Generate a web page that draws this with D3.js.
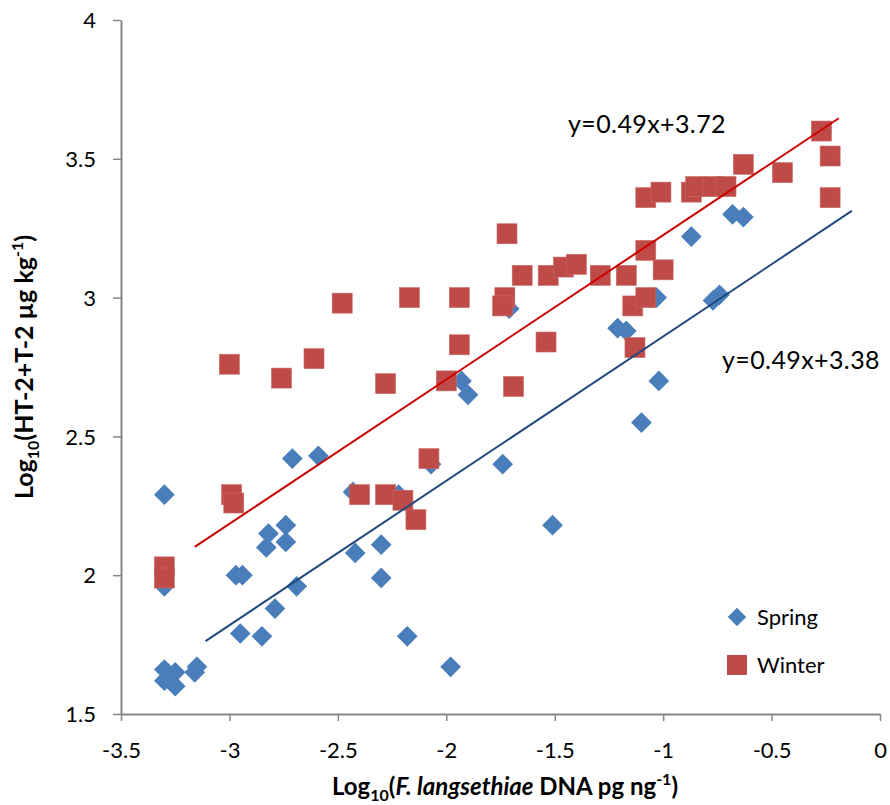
<!DOCTYPE html>
<html>
<head>
<meta charset="utf-8">
<script src="https://cdn.jsdelivr.net/npm/d3@7"></script>
<style>
  body { margin: 0; background: #fff; }
  svg { font-family: Lato, "Open Sans", sans-serif; }
</style>
</head>
<body>
<svg id="chart" width="890" height="805"></svg>
<script>
// values
const springX = [-3.30, -3.30, -3.30, -3.30, -3.25, -3.25, -3.15, -3.16, -2.97, -2.94,
  -2.95, -2.85, -2.83, -2.82, -2.79, -2.74, -2.74, -2.69, -2.71, -2.59,
  -2.43, -2.42, -2.30, -2.30, -2.22, -2.18, -2.07, -1.98, -1.93, -1.90,
  -1.74, -1.71, -1.51, -1.21, -1.17, -1.10, -1.06, -1.03, -1.02, -0.87,
  -0.77, -0.74, -0.68, -0.63];
const springY = [2.29, 1.96, 1.66, 1.62, 1.60, 1.65, 1.67, 1.65, 2.00, 2.00,
  1.79, 1.78, 2.10, 2.15, 1.88, 2.18, 2.12, 1.96, 2.42, 2.43,
  2.30, 2.08, 2.11, 1.99, 2.29, 1.78, 2.40, 1.67, 2.70, 2.65,
  2.40, 2.96, 2.18, 2.89, 2.88, 2.55, 3.00, 3.00, 2.70, 3.22,
  2.99, 3.01, 3.30, 3.29];

const winterX = [-3.30, -3.30, -2.99, -2.98, -3.00, -2.76, -2.61, -2.48, -2.40, -2.28,
  -2.28, -2.17, -2.20, -2.14, -2.08, -2.00, -1.94, -1.94, -1.73, -1.74,
  -1.72, -1.69, -1.65, -1.54, -1.53, -1.46, -1.40, -1.29, -1.17, -1.14,
  -1.13, -1.08, -1.08, -1.08, -1.01, -1.00, -0.87, -0.85, -0.77, -0.71,
  -0.63, -0.45, -0.27, -0.23, -0.23];
const winterY = [2.03, 1.99, 2.29, 2.26, 2.76, 2.71, 2.78, 2.98, 2.29, 2.29,
  2.69, 3.00, 2.27, 2.20, 2.42, 2.70, 3.00, 2.83, 3.00, 2.97,
  3.23, 2.68, 3.08, 2.84, 3.08, 3.11, 3.12, 3.08, 3.08, 2.97,
  2.82, 3.00, 3.17, 3.36, 3.38, 3.10, 3.38, 3.40, 3.40, 3.40,
  3.48, 3.45, 3.60, 3.51, 3.36];

// drawn trend lines: [x start, x end], slope, intercept
const springFit = { x: [-3.11, -0.13], slope: 0.52, icpt: 3.38 };
const winterFit = { x: [-3.16, -0.19], slope: 0.52, icpt: 3.745 };

const xTicks = [-3.5, -3, -2.5, -2, -1.5, -1, -0.5, 0];
const yTicks = [1.5, 2, 2.5, 3, 3.5, 4];

const svg = d3.select('#chart');
const x = d3.scaleLinear().domain([-3.5, 0]).range([121, 880]);
const y = d3.scaleLinear().domain([1.5, 4]).range([714, 20]);

const axisColor = '#868686';

const xAxis = svg.append('g').attr('transform', 'translate(0,714)')
  .call(d3.axisBottom(x).tickValues(xTicks).tickFormat(d => String(d)).tickSize(7).tickSizeOuter(0));
const yAxis = svg.append('g').attr('transform', 'translate(121,0)')
  .call(d3.axisLeft(y).tickValues(yTicks).tickFormat(d => String(d)).tickSize(8).tickSizeOuter(0));

[xAxis, yAxis].forEach(g => {
  g.select('.domain').attr('stroke', axisColor).attr('stroke-width', 2);
  g.selectAll('.tick line').attr('stroke', axisColor).attr('stroke-width', 1.5);
  g.selectAll('.tick text').attr('fill', '#000').style('font-size', '22px')
    .style('font-family', 'Lato, "Open Sans", sans-serif');
});
xAxis.selectAll('.tick text').attr('dy', null).attr('y', 44);
yAxis.selectAll('.tick text').attr('x', -25).attr('dy', '0.35em');

// trend lines
const fitLine = (fit, color) => {
  const pts = fit.x.map(v => [v, fit.slope * v + fit.icpt]);
  svg.append('path')
    .attr('d', d3.line().x(d => x(d[0])).y(d => y(d[1]))(pts))
    .attr('stroke', color).attr('stroke-width', 2).attr('fill', 'none');
};

const diamond = d3.symbol().type(d3.symbolSquare).size(215);
svg.append('g').selectAll('path').data(springX)
  .join('path')
  .attr('d', diamond)
  .attr('transform', (d, i) => `translate(${x(d)},${y(springY[i])}) rotate(45)`)
  .attr('fill', '#4A7EBB');

svg.append('g').selectAll('rect').data(winterX)
  .join('rect')
  .attr('x', d => x(d) - 10).attr('y', (d, i) => y(winterY[i]) - 10)
  .attr('width', 20).attr('height', 20)
  .attr('fill', '#BE4B48').attr('stroke', '#c96a68').attr('stroke-width', 0.6);

fitLine(winterFit, '#CC0000');
fitLine(springFit, '#1F497D');

// equation labels
svg.append('text').attr('x', 568).attr('y', 133).style('font-size', '25px')
  .style('letter-spacing', '0.4px').text('y=0.49x+3.72');
svg.append('text').attr('x', 722).attr('y', 369).style('font-size', '25px')
  .style('letter-spacing', '0.4px').text('y=0.49x+3.38');

// legend
const legend = svg.append('g');
legend.append('path').attr('d', d3.symbol().type(d3.symbolSquare).size(170))
  .attr('transform', 'translate(737,617) rotate(45)').attr('fill', '#4A7EBB');
legend.append('rect').attr('x', 727).attr('y', 655).attr('width', 20).attr('height', 20).attr('fill', '#BE4B48');
legend.append('text').attr('x', 757).attr('y', 625).style('font-size', '22px').text('Spring');
legend.append('text').attr('x', 757).attr('y', 673).style('font-size', '22px').text('Winter');

// axis titles
const xt = svg.append('text').attr('x', 505).attr('y', 795).attr('text-anchor', 'middle')
  .style('font-size', '24px').style('font-weight', 'bold');
xt.append('tspan').text('Log');
xt.append('tspan').attr('dy', 6).style('font-size', '16px').text('10');
xt.append('tspan').attr('dy', -6).text('(');
xt.append('tspan').style('font-style', 'italic').text('F. langsethiae');
xt.append('tspan').text(' DNA pg ng');
xt.append('tspan').attr('dy', -10).style('font-size', '16px').text('-1');
xt.append('tspan').attr('dy', 10).text(')');

const yt = svg.append('text').attr('transform', 'translate(33,367) rotate(-90)').attr('text-anchor', 'middle')
  .style('font-size', '25px').style('font-weight', 'bold');
yt.append('tspan').text('Log');
yt.append('tspan').attr('dy', 6).style('font-size', '16px').text('10');
yt.append('tspan').attr('dy', -6).text('(HT-2+T-2 µg kg');
yt.append('tspan').attr('dy', -10).style('font-size', '16px').text('-1');
yt.append('tspan').attr('dy', 10).text(')');
</script>
</body>
</html>
